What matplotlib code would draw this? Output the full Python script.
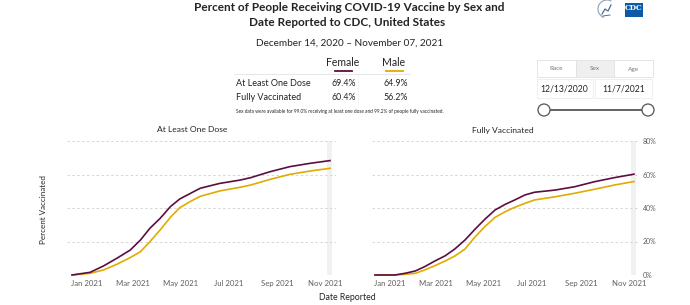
#!/usr/bin/env python3
"""
Percent of people receiving COVID-19 vaccine by sex, CDC dashboard style.
"""

import matplotlib
matplotlib.use('Agg')
import numpy as np
import pandas as pd
import matplotlib.pyplot as plt
import matplotlib.dates as mdates
from matplotlib.patches import Rectangle, Circle, Arc

# ---- data ----
dose_dates = ['2020-12-14', '2021-01-06', '2021-01-23', '2021-02-09', '2021-02-26',
              '2021-03-11', '2021-03-23', '2021-04-05', '2021-04-18', '2021-04-30',
              '2021-05-13', '2021-05-26', '2021-06-20', '2021-07-16', '2021-07-29',
              '2021-08-23', '2021-09-17', '2021-10-13', '2021-11-07']
dose_female = [0, 1.6, 5.4, 10.0, 14.9, 20.9, 27.9, 33.8, 40.8, 45.4,
               48.6, 51.8, 54.7, 56.7, 58.1, 61.7, 64.7, 66.7, 68.3]
dose_male = [0, 1.0, 3.0, 6.4, 10.4, 13.9, 19.9, 26.9, 34.4, 40.2,
             43.8, 47.0, 50.2, 52.4, 53.7, 57.1, 60.1, 62.1, 63.7]

full_dates = ['2020-12-14', '2021-01-08', '2021-01-21', '2021-02-03', '2021-02-15',
              '2021-02-28', '2021-03-13', '2021-03-25', '2021-04-07', '2021-04-20',
              '2021-05-02', '2021-05-15', '2021-05-28', '2021-06-09', '2021-06-22',
              '2021-07-04', '2021-07-30', '2021-08-24', '2021-09-18', '2021-10-13',
              '2021-11-07']
full_female = [0, 0, 1.0, 2.4, 5.0, 8.4, 11.5, 15.5, 20.9, 27.5, 33.2,
               38.8, 42.2, 44.8, 47.8, 49.4, 50.7, 52.7, 55.7, 58.1, 60.2]
full_male = [0, 0, 0.4, 1.0, 3.0, 5.6, 8.4, 11.3, 15.5, 22.9, 28.8,
             34.4, 37.8, 40.4, 42.8, 44.8, 46.7, 48.8, 51.2, 53.7, 55.8]

sexes = ['Female', 'Male']
row_labels = ['At Least One Dose', 'Fully Vaccinated']
table_values = [['69.4%', '64.9%'], ['60.4%', '56.2%']]
y_ticks = [0, 20, 40, 60, 80]
tabs = ['Race', 'Sex', 'Age']
date_range = ['12/13/2020', '11/7/2021']

FEMALE = '#5c0e41'
MALE = '#e2ab00'
TXT = '#252423'
GRAY = '#605e5c'
FONT = ['Lato', 'DejaVu Sans']

plt.rcParams['font.family'] = FONT

W, H = 690, 305
fig = plt.figure(figsize=(W / 100, H / 100), dpi=100)

# overlay axes in pixel coordinates for the dashboard decorations
ov = fig.add_axes([0, 0, 1, 1])
ov.set_xlim(0, W)
ov.set_ylim(H, 0)
ov.axis('off')


def fax(x0, x1, y0, y1):
    return [x0 / W, 1 - y1 / H, (x1 - x0) / W, (y1 - y0) / H]


def draw_panel(ax, dates, female, male, pad_l, pad_r, right_labels):
    d = pd.to_datetime(dates)
    ax.set_facecolor('none')
    ax.axvspan(d[-1] - pd.Timedelta(days=3.5), d[-1] + pd.Timedelta(days=2.5),
               color='#f1f1f1', zorder=0, lw=0)
    for yv in y_ticks:
        ax.axhline(yv, color='#d6d6d6', lw=0.7, ls=(0, (2.5, 2.5)), zorder=1)
    ax.plot(d, male, color=MALE, lw=1.2, zorder=3, clip_on=False)
    ax.plot(d, female, color=FEMALE, lw=1.2, zorder=4, clip_on=False)
    ax.set_xlim(d[0] - pd.Timedelta(days=pad_l), d[-1] + pd.Timedelta(days=pad_r))
    ax.set_ylim(0, 80)
    for s in ax.spines.values():
        s.set_visible(False)
    ax.xaxis.set_major_locator(mdates.MonthLocator(bymonth=[1, 3, 5, 7, 9, 11]))
    ax.xaxis.set_major_formatter(mdates.DateFormatter('%b %Y'))
    ax.tick_params(axis='x', length=0, pad=3.5, labelsize=5.6, labelcolor=GRAY)
    if right_labels:
        ax.yaxis.tick_right()
        ax.set_yticks(y_ticks)
        ax.set_yticklabels([f'{v}%' for v in y_ticks])
        ax.tick_params(axis='y', length=0, pad=3.5, labelsize=5, labelcolor=GRAY)
    else:
        ax.set_yticks([])


ax1 = fig.add_axes(fax(67, 336, 141, 275))
draw_panel(ax1, dose_dates, dose_female, dose_male, 6.4, 7.6, False)
ax2 = fig.add_axes(fax(372, 638, 141, 275))
draw_panel(ax2, full_dates, full_female, full_male, 3.8, 5.1, True)

# panel titles and axis labels
ov.text(192, 130, 'At Least One Dose', ha='center', va='center', fontsize=6.1, color=TXT)
ov.text(503, 130, 'Fully Vaccinated', ha='center', va='center', fontsize=6.1, color=TXT)
ov.text(43, 210, 'Percent Vaccinated', rotation=90, ha='center', va='center',
        fontsize=5.8, color=TXT)
ov.text(347, 297, 'Date Reported', ha='center', va='center', fontsize=6.3, color=TXT)

# titles
ov.text(349, 7.5, 'Percent of People Receiving COVID-19 Vaccine by Sex and',
        ha='center', va='center', fontsize=8.5, fontweight='bold', color=TXT)
ov.text(347, 23, 'Date Reported to CDC, United States',
        ha='center', va='center', fontsize=8.5, fontweight='bold', color=TXT)
ov.text(350, 43, 'December 14, 2020 \u2013 November 07, 2021',
        ha='center', va='center', fontsize=7.2, color=TXT)

# summary table
col_x = [343, 394]
col_right = [356, 408]
for i, (sx, c) in enumerate(zip(sexes, [FEMALE, MALE])):
    ov.text(col_x[i], 62, sx, ha='center', va='center', fontsize=7.6, color=TXT)
    ov.plot([col_x[i] - 8.5, col_x[i] + 8.5], [71, 71], color=c, lw=1.3)
ov.plot([234, 410], [74, 74], color='#e3e3e3', lw=0.6)
ov.plot([357.5, 357.5], [74, 104], color='#eeeeee', lw=0.5)
for r, (lab, vals) in enumerate(zip(row_labels, table_values)):
    y = 83.5 + r * 14
    ov.text(236, y, lab, ha='left', va='center', fontsize=6.5, color=TXT)
    for i, v in enumerate(vals):
        ov.text(col_right[i], y, v, ha='right', va='center', fontsize=6.3, color=TXT)
ov.text(236, 111, 'Sex data were available for 99.0% receiving at least one dose '
        'and 99.2% of people fully vaccinated.', ha='left', va='center',
        fontsize=3.4, color=TXT)

# filter widget (tabs, date boxes, slider)
tab_edges = [536.7, 575.7, 614, 652.7]
for i, t in enumerate(tabs):
    fc = '#efefef' if t == 'Sex' else 'white'
    ov.add_patch(Rectangle((tab_edges[i], 60), tab_edges[i + 1] - tab_edges[i], 17.3,
                           facecolor=fc, edgecolor='#e1e1e1', lw=0.6))
    ov.text((tab_edges[i] + tab_edges[i + 1]) / 2, 69, t, ha='center', va='center',
            fontsize=4.6, color='#777777')
for x0, x1, s in zip([536.7, 595.3], [592.7, 651.7], date_range):
    ov.add_patch(Rectangle((x0, 79.3), x1 - x0, 19, facecolor='white',
                           edgecolor='#ececec', lw=0.6))
    ov.text((x0 + x1) / 2, 89, s, ha='center', va='center', fontsize=6.2, color=TXT)
ov.plot([544, 648], [110, 110], color='#555555', lw=1.3, zorder=2)
for cx in [544, 648]:
    ov.add_patch(Circle((cx, 110), 6, facecolor='white', edgecolor='#555555',
                        lw=0.9, zorder=3))

# logos
ov.add_artist(Arc((607, 9), 18, 18, theta1=110, theta2=300, color='#8aa0b8', lw=0.8))
ov.plot([602, 605, 608, 611], [14, 9, 11, 5], color='#4a6f96', lw=0.9)
ov.plot([603, 610], [16, 15], color='#4a6f96', lw=0.7)
ov.add_patch(Rectangle((625, 3), 18, 14, facecolor='#0b5aa6', edgecolor='none'))
ov.text(634, 8.5, 'CDC', ha='center', va='center', fontsize=5.2, color='white',
        fontweight='bold', family='DejaVu Serif')

fig.savefig('out.png', dpi=100)
